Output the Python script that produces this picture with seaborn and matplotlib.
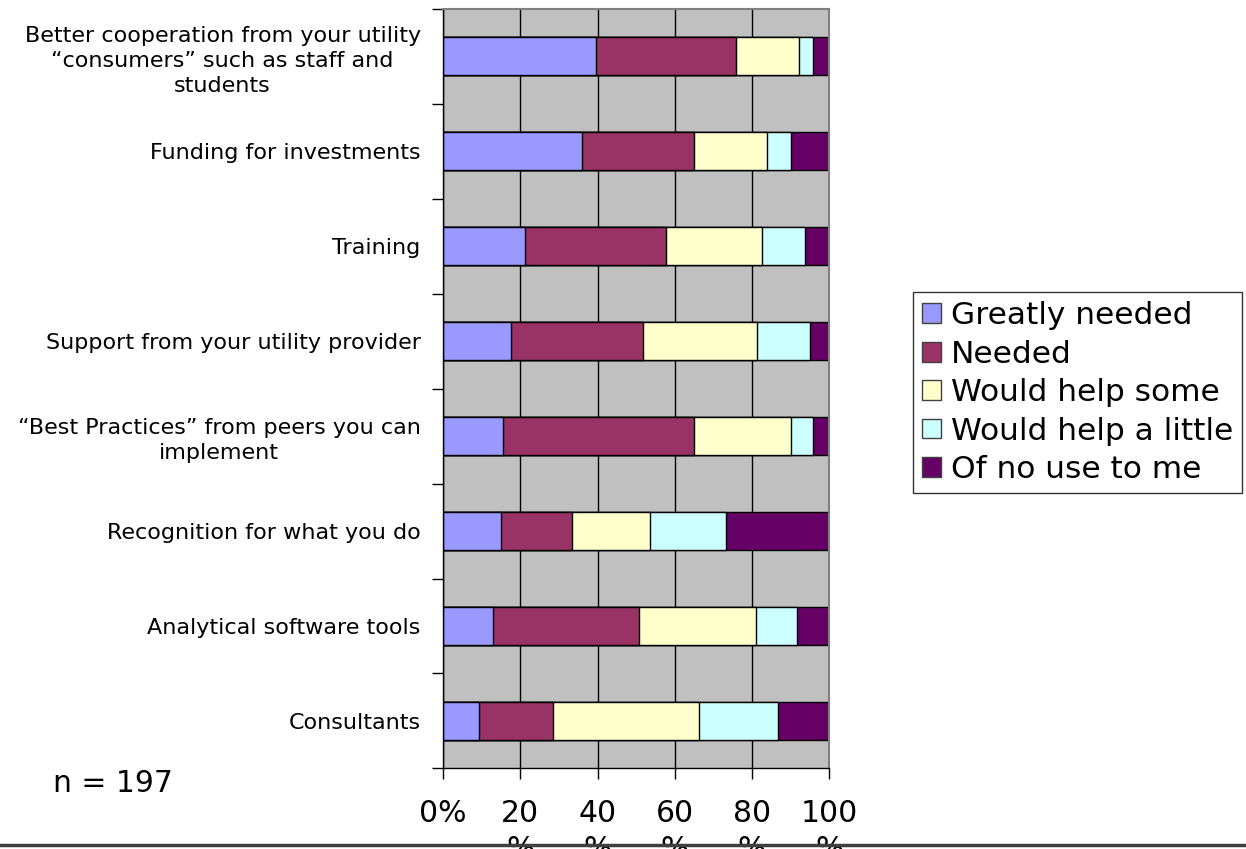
# ==== IMPORT LIBRARIES ====
import pandas as pd
import matplotlib
matplotlib.use("Agg")
import matplotlib.pyplot as plt
from matplotlib.patches import Patch
from matplotlib.lines import Line2D
from matplotlib.ticker import FixedLocator
import seaborn as sns

# ==== DATA ====
categories = [
    "Better cooperation from your utility\n\u201cconsumers\u201d such as staff and\nstudents",
    "Funding for investments",
    "Training",
    "Support from your utility provider",
    "\u201cBest Practices\u201d from peers you can\nimplement",
    "Recognition for what you do",
    "Analytical software tools",
    "Consultants",
]
series_names = ["Greatly needed", "Needed", "Would help some",
                "Would help a little", "Of no use to me"]
greatly_needed = [39.5, 36.0, 21.2, 17.6, 15.5, 14.9, 13.0, 9.2]
needed = [36.4, 28.9, 36.4, 34.3, 49.6, 18.6, 37.7, 19.3]
help_some = [16.2, 18.9, 25.0, 29.4, 25.1, 20.2, 30.3, 37.7]
help_little = [3.7, 6.4, 11.1, 13.6, 5.6, 19.6, 10.7, 20.5]
no_use = [4.2, 9.8, 6.3, 5.1, 4.2, 26.7, 8.3, 13.3]
x_ticks = [0, 20, 40, 60, 80, 100]
x_tick_labels = ["0%", "20\n%", "40\n%", "60\n%", "80\n%", "100\n%"]
colors = ["#9999FF", "#993366", "#FFFFCC", "#CCFFFF", "#660066"]

# ==== BUILD TABLE ====
df = pd.DataFrame({"item": categories})
for name, vals in zip(series_names,
                      [greatly_needed, needed, help_some, help_little, no_use]):
    df[name] = vals
# running totals for stacking
cum = df[series_names].cumsum(axis=1)
cum["item"] = df["item"]

# ==== STYLE ====
sns.set_style("white")
plt.rcParams["font.family"] = ["DejaVu Sans"]
plt.rcParams["text.color"] = "black"

fig = plt.figure(figsize=(12.46, 8.49), dpi=100)
ax = fig.add_axes([0.3555, 0.0950, 0.3101, 0.8944])
ax.set_facecolor("#C0C0C0")

# ==== STACKED BARS (draw longest first) ====
for name, col in reversed(list(zip(series_names, colors))):
    sns.barplot(data=cum, x=name, y="item", orient="h", color=col,
                saturation=1, width=0.4, edgecolor="black", linewidth=1,
                ax=ax)

ax.set_xlim(0, 100)
ax.set_ylim(len(categories) - 0.5, -0.5)
ax.set_xlabel("")
ax.set_ylabel("")

# gridlines
ax.set_axisbelow(True)
ax.set_xticks(x_ticks)
ax.set_xticklabels(x_tick_labels, fontsize=21.5, linespacing=1.3)
ax.grid(axis="x", color="black", linewidth=1)
ax.grid(axis="y", visible=False)

# ticks between categories
ax.yaxis.set_minor_locator(FixedLocator([i - 0.5 for i in range(len(categories) + 1)]))
ax.tick_params(axis="y", which="major", length=0, pad=16, labelsize=16,
               labelcolor="black")
ax.tick_params(axis="y", which="minor", left=True, length=8, width=1,
               color="black", direction="out")
ax.tick_params(axis="x", which="major", bottom=True, length=8, width=1,
               color="black", direction="out", pad=14, labelcolor="black")
for lbl in ax.get_yticklabels():
    lbl.set_multialignment("center")
    lbl.set_linespacing(1.3)

for side in ["left", "bottom"]:
    ax.spines[side].set_color("black")
    ax.spines[side].set_linewidth(1)
for side in ["top", "right"]:
    ax.spines[side].set_visible(True)
    ax.spines[side].set_color("#808080")
    ax.spines[side].set_linewidth(1.5)

# ==== LEGEND ====
handles = [Patch(facecolor=c, edgecolor="#404040", linewidth=1) for c in colors]
leg = fig.legend(handles, series_names, loc="upper left",
                 bbox_to_anchor=(0.7328, 0.656), fontsize=22.5,
                 frameon=True, fancybox=False, shadow=False,
                 handlelength=0.6, handleheight=0.6, handletextpad=0.3,
                 labelspacing=0.3, borderpad=0.3, borderaxespad=0)
leg.get_frame().set_edgecolor("black")
leg.get_frame().set_linewidth(1)
for t in leg.get_texts():
    t.set_color("black")

# ==== NOTES ====
fig.text(0.0425, 0.0777, "n = 197", fontsize=21.5, va="center", ha="left",
         color="black")
fig.add_artist(Line2D([0, 1], [0.0047, 0.0047], transform=fig.transFigure,
                      color="#404040", linewidth=2.5))

plt.savefig("out.png", dpi=100)
